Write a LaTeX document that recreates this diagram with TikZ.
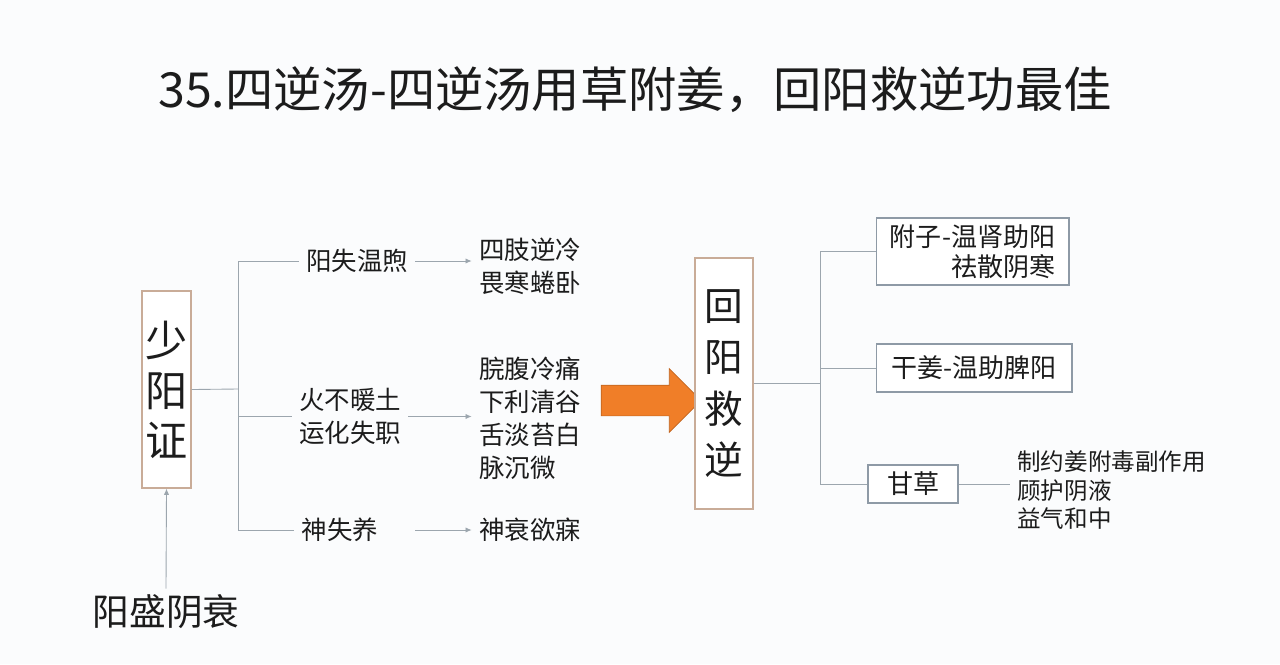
\documentclass[tikz,border=0pt]{standalone}
\usepackage{fontspec}
\setmainfont{Noto Sans CJK SC}
\usetikzlibrary{positioning,shapes.arrows,arrows.meta}
\definecolor{bgwhite}{HTML}{FBFCFD}
\definecolor{linegray}{HTML}{9CA6AE}
\definecolor{boxbrown}{HTML}{C9AC98}
\definecolor{boxgray}{HTML}{8E9AA6}
\definecolor{txtdark}{HTML}{1C1C1C}
\definecolor{arrorange}{HTML}{F07E28}
\begin{document}
\begin{tikzpicture}[x=0.02cm, y=-0.02cm,
    tline/.style={draw=linegray, line width=0.5pt},
    arr/.style={tline, -{Latex[length=3.5pt, width=3pt]}},
    txt/.style={text=txtdark, inner sep=4pt, font=\fontsize{14.5}{18.8}\selectfont},
    bigbox/.style={rectangle, draw=boxbrown, fill=white, line width=0.7pt, inner sep=0pt, align=center, text=txtdark},
    medbox/.style={rectangle, draw=boxgray, fill=white, line width=0.6pt, text=txtdark, font=\fontsize{14.8}{17}\selectfont},
    bigarrow/.style={single arrow, fill=arrorange, draw=arrorange!80!black, thin, inner sep=0.3cm, minimum height=2.0cm, single arrow head extend=0.33cm}]

    \fill[bgwhite] (0,0) rectangle (1280,664);
    \useasboundingbox (0,0) rectangle (1280,664);

    \node[text=txtdark, font=\fontsize{27.5}{32}\selectfont] (title) at (635,90) {35.四逆汤-四逆汤用草附姜，回阳救逆功最佳};

    % left part
    \node[bigbox, minimum width=0.98cm, minimum height=3.94cm, font=\fontsize{24}{28.5}\selectfont] (sybox) at (166.5,389.5) {少\\阳\\证};
    \node[text=txtdark, font=\fontsize{20.9}{24}\selectfont] (yssy) at (166,612) {阳盛阴衰};
    \draw[arr] (yssy.north) -- (sybox.south);

    \coordinate (split1) at (238,389);
    \node[txt] (n1) at (357,261) {阳失温煦};
    \node[txt, align=left] (n2) at (350,416.5) {火不暖土\\运化失职};
    \node[txt] (n3) at (340,530) {神失养};
    \node[txt, align=left] (r1) at (530,266.5) {四肢逆冷\\畏寒蜷卧};
    \node[txt, align=left] (r2) at (530,418.5) {脘腹冷痛\\下利清谷\\舌淡苔白\\脉沉微};
    \node[txt] (r3) at (530,530) {神衰欲寐};

    \draw[tline] (sybox.east) -- (split1);
    \draw[tline] (n1.west -| split1) -- (n3.west -| split1);
    \draw[tline] (n1.west -| split1) -- (n1.west);
    \draw[tline] (n2.west -| split1) -- (n2.west);
    \draw[tline] (n3.west -| split1) -- (n3.west);
    \draw[arr] (n1.east) -- (n1.east -| r1.west);
    \draw[arr] (n2.east) -- (n2.east -| r2.west);
    \draw[arr] (n3.east -| n1.east) -- (n3.east -| r3.west);

    % middle
    \node[bigarrow] (bigarr) at (643.5,400.5) {};
    \node[bigbox, minimum width=1.16cm, minimum height=5.02cm, font=\fontsize{22}{29.3}\selectfont] (hybox) at (724,383.5) {回\\阳\\救\\逆};

    % right part
    \coordinate (split2) at (820,383);
    \node[medbox, minimum width=3.86cm, minimum height=1.34cm, align=right] (fz) at (972.5,251.5) {附子-温肾助阳\\祛散阴寒};
    \node[medbox, minimum width=3.92cm, minimum height=0.96cm] (gj) at (974,368) {干姜-温助脾阳};
    \node[medbox, minimum width=1.8cm, minimum height=0.76cm] (gc) at (913,484) {甘草};
    \node[txt, anchor=west, align=left, font=\fontsize{13.4}{16}\selectfont] (gcnote) at (1010,490) {制约姜附毒副作用\\顾护阴液\\益气和中};

    \draw[tline] (hybox.east |- split2) -- (split2);
    \draw[tline] (fz.west -| split2) -- (gc.west -| split2);
    \draw[tline] (fz.west -| split2) -- (fz.west);
    \draw[tline] (gj.west -| split2) -- (gj.west);
    \draw[tline] (gc.west -| split2) -- (gc.west);
    \draw[tline] (gc.east) -- (gc.east -| gcnote.west);

\end{tikzpicture}
\end{document}
